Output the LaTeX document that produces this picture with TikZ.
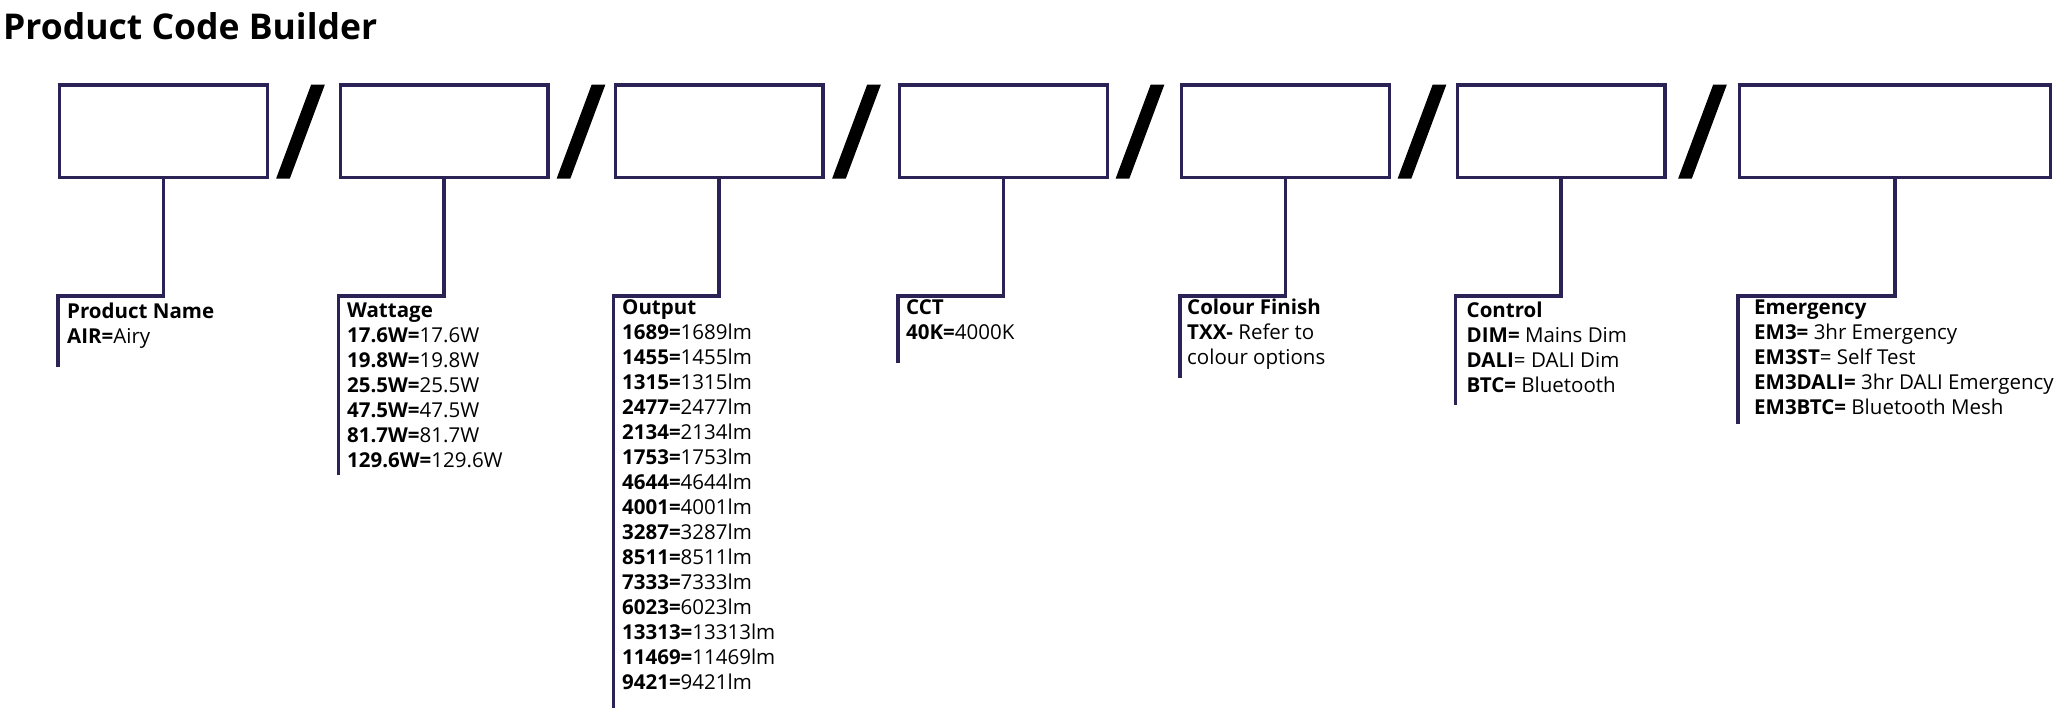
\documentclass[tikz,border=0pt]{standalone}
\usepackage{fontspec}
\setmainfont{Open Sans}
\newfontfamily\slashfont{Open Sans}[FakeBold=2.5]
\usepackage{tikz}
\definecolor{codenavy}{HTML}{2B2356}
\newcommand{\codeval}[2]{\textbf{#1=}#2}

\begin{document}
\begin{tikzpicture}[x=1pt,y=-1pt,
    codebox/.style={draw=codenavy, line width=3.3pt, minimum width=207.7pt, minimum height=92.7pt, inner sep=0pt},
    sep/.style={font=\fontsize{127}{127}\slashfont, inner sep=0pt, anchor=base},
    lead/.style={draw=codenavy, line width=3.2pt},
    opts/.style={font=\fontsize{20.5}{25}\selectfont, inner sep=0pt, anchor=base west}]
    \useasboundingbox (0,0) rectangle (2054,708);
    \node [font=\fontsize{35.5}{40}\selectfont\bfseries, inner sep=0pt, anchor=base west] (title) at (3,40) {Product Code Builder};

    \node [codebox] (name) at (163.5,131.5) {};
    \node [codebox] (watt) at (444,131.5) {};
    \node [codebox] (lum) at (719,131.5) {};
    \node [codebox] (cct) at (1003.5,131.5) {};
    \node [codebox] (finish) at (1285.5,131.5) {};
    \node [codebox] (ctrl) at (1561,131.5) {};
    \node [codebox, minimum width=310.7pt] (emerg) at (1895,131.5) {};

    \node [sep] (sl1) at (300.5,177) {/};
    \node [sep] (sl2) at (581,177) {/};
    \node [sep] (sl3) at (856.5,177) {/};
    \node [sep] (sl4) at (1140,177) {/};
    \node [sep] (sl5) at (1422,177) {/};
    \node [sep] (sl6) at (1702.5,177) {/};

    \coordinate (nameTop) at (name.south west |- 0,296);   \coordinate (nameEnd) at (name.south west |- 0,367);
    \coordinate (wattTop) at (watt.south west |- 0,296);   \coordinate (wattEnd) at (watt.south west |- 0,475);
    \coordinate (lumTop) at (lum.south west |- 0,296);     \coordinate (lumEnd) at (lum.south west |- 0,708);
    \coordinate (cctTop) at (cct.south west |- 0,296);     \coordinate (cctEnd) at (cct.south west |- 0,363);
    \coordinate (finishTop) at (finish.south west |- 0,296); \coordinate (finishEnd) at (finish.south west |- 0,378);
    \coordinate (ctrlTop) at (ctrl.south west |- 0,296);   \coordinate (ctrlEnd) at (ctrl.south west |- 0,405);
    \coordinate (emergTop) at (emerg.south west |- 0,296); \coordinate (emergEnd) at (emerg.south west |- 0,424);

    \draw [lead] (name.south) |- (nameTop) -- (nameEnd);
    \draw [lead] (watt.south) |- (wattTop) -- (wattEnd);
    \draw [lead] (lum.south) |- (lumTop) -- (lumEnd);
    \draw [lead] (cct.south) |- (cctTop) -- (cctEnd);
    \draw [lead] (finish.south) |- (finishTop) -- (finishEnd);
    \draw [lead] (ctrl.south) |- (ctrlTop) -- (ctrlEnd);
    \draw [lead] (emerg.south) |- (emergTop) -- (emergEnd);

    \node [opts] (nameTxt) at (67,319) {\begin{tabular}[t]{@{}l@{}}
        \textbf{Product Name}\\ \codeval{AIR}{Airy}\end{tabular}};
    \node [opts] (wattTxt) at (347,318) {\begin{tabular}[t]{@{}l@{}}
        \textbf{Wattage}\\ \codeval{17.6W}{17.6W}\\ \codeval{19.8W}{19.8W}\\ \codeval{25.5W}{25.5W}\\
        \codeval{47.5W}{47.5W}\\ \codeval{81.7W}{81.7W}\\ \codeval{129.6W}{129.6W}\end{tabular}};
    \node [opts] (lumTxt) at (622,315) {\begin{tabular}[t]{@{}l@{}}
        \textbf{Output}\\ \codeval{1689}{1689lm}\\ \codeval{1455}{1455lm}\\ \codeval{1315}{1315lm}\\
        \codeval{2477}{2477lm}\\ \codeval{2134}{2134lm}\\ \codeval{1753}{1753lm}\\ \codeval{4644}{4644lm}\\
        \codeval{4001}{4001lm}\\ \codeval{3287}{3287lm}\\ \codeval{8511}{8511lm}\\ \codeval{7333}{7333lm}\\
        \codeval{6023}{6023lm}\\ \codeval{13313}{13313lm}\\ \codeval{11469}{11469lm}\\ \codeval{9421}{9421lm}\end{tabular}};
    \node [opts] (cctTxt) at (906,315) {\begin{tabular}[t]{@{}l@{}}
        \textbf{CCT}\\ \codeval{40K}{4000K}\end{tabular}};
    \node [opts] (finishTxt) at (1187,315) {\begin{tabular}[t]{@{}l@{}}
        \textbf{Colour Finish}\\ \textbf{TXX-} Refer to\\ colour options\end{tabular}};
    \node [opts] (ctrlTxt) at (1466.5,318) {\begin{tabular}[t]{@{}l@{}}
        \textbf{Control}\\ \codeval{DIM}{ Mains Dim}\\ \textbf{DALI}= DALI Dim\\ \codeval{BTC}{ Bluetooth}\end{tabular}};
    \node [opts] (emergTxt) at (1754,315) {\begin{tabular}[t]{@{}l@{}}
        \textbf{Emergency}\\ \codeval{EM3}{ 3hr Emergency}\\ \textbf{EM3ST}= Self Test\\
        \codeval{EM3DALI}{ 3hr DALI Emergency}\\ \codeval{EM3BTC}{ Bluetooth Mesh}\end{tabular}};
\end{tikzpicture}
\end{document}
